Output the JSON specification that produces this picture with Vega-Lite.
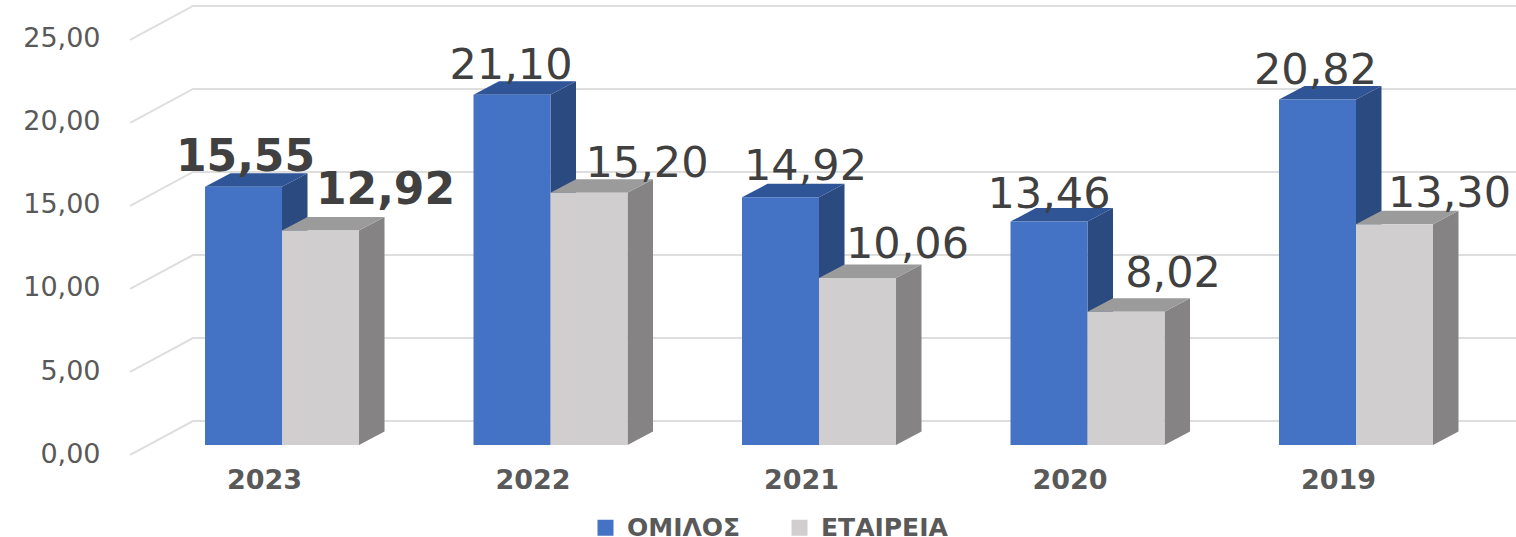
{"$schema":"https://vega.github.io/schema/vega-lite/v6.json","width":1408,"height":462,"autosize":{"type":"none"},"padding":{"left":108,"top":0,"right":0,"bottom":75},"background":"white","data":{"values":[{"year":2023,"series":"ΟΜΙΛΟΣ","value":15.55},{"year":2023,"series":"ΕΤΑΙΡΕΙΑ","value":12.92},{"year":2022,"series":"ΟΜΙΛΟΣ","value":21.10},{"year":2022,"series":"ΕΤΑΙΡΕΙΑ","value":15.20},{"year":2021,"series":"ΟΜΙΛΟΣ","value":14.92},{"year":2021,"series":"ΕΤΑΙΡΕΙΑ","value":10.06},{"year":2020,"series":"ΟΜΙΛΟΣ","value":13.46},{"year":2020,"series":"ΕΤΑΙΡΕΙΑ","value":8.02},{"year":2019,"series":"ΟΜΙΛΟΣ","value":20.82},{"year":2019,"series":"ΕΤΑΙΡΕΙΑ","value":13.30}]},"transform":[{"calculate":"datum.year-(datum.series==='ΟΜΙΛΟΣ'?0:0.2868)","as":"xb"},{"calculate":"replace(format(datum.value,'.2f'),'.',',')","as":"label"}],"encoding":{"x":{"field":"xv","type":"quantitative","scale":{"domain":[2023.3613,2018.1173],"nice":false,"zero":false},"axis":{"values":[2023,2022,2021,2020,2019],"format":"d","title":null,"grid":false,"domain":false,"ticks":false,"labelOffset":59,"labelPadding":5,"labelFont":"DejaVu Sans","labelFontWeight":"bold","labelFontSize":27,"labelColor":"#595959","labelOverlap":false,"labelFlush":false}},"y":{"field":"yv","type":"quantitative","scale":{"domain":[-1.024,26.807],"nice":false,"zero":false},"axis":{"values":[0,5,10,15,20,25],"labelExpr":"replace(format(datum.value,'.2f'),'.',',')","title":null,"grid":false,"domain":false,"ticks":false,"labelOffset":9,"labelPadding":8,"labelFont":"DejaVu Sans","labelFontSize":27,"labelColor":"#595959","labelOverlap":false,"labelFlush":false}}},"layer":[{"data":{"values":[{"tick":0},{"tick":5},{"tick":10},{"tick":15},{"tick":20},{"tick":25}]},"transform":[{"calculate":"[0,1,2]","as":"corner"},{"flatten":["corner"]},{"calculate":"[2023.279,2023.0447,2018.1173][datum.corner]","as":"xv"},{"calculate":"datum.tick+[-0.6,1.446,1.446][datum.corner]","as":"yv"}],"mark":{"type":"line","stroke":"#DEDEDE","strokeWidth":2},"encoding":{"detail":{"field":"tick"},"order":{"field":"corner"}}},
{"transform":[{"filter":"datum.series==='ΟΜΙΛΟΣ'"},{"calculate":"[0,1]","as":"corner"},{"flatten":["corner"]},{"calculate":"datum.xb-0.2868-datum.corner*0.095","as":"xv"},{"calculate":"datum.value+datum.corner*0.813","as":"yv"},{"calculate":"datum.corner*0.813","as":"y2v"}],"mark":{"type":"area","orient":"vertical","fill":"#2A4A80"},"encoding":{"y2":{"field":"y2v"},"detail":{"field":"year"}}},
{"transform":[{"filter":"datum.series==='ΟΜΙΛΟΣ'"},{"calculate":"[0,1]","as":"corner"},{"flatten":["corner"]},{"calculate":"datum.xb-datum.corner*0.095","as":"xv"},{"calculate":"datum.xb-0.2868-datum.corner*0.095","as":"x2v"},{"calculate":"datum.value+datum.corner*0.813","as":"yv"}],"mark":{"type":"area","orient":"horizontal","fill":"#2F5597"},"encoding":{"x2":{"field":"x2v"},"detail":{"field":"year"}}},
{"transform":[{"filter":"datum.series==='ΟΜΙΛΟΣ'"},{"calculate":"datum.xb","as":"xv"},{"calculate":"datum.xb-0.2868","as":"x2v"},{"calculate":"datum.value","as":"yv"}],"mark":{"type":"rect"},"encoding":{"x2":{"field":"x2v"},"y2":{"datum":0},"color":{"field":"series","type":"nominal","scale":{"domain":["ΟΜΙΛΟΣ","ΕΤΑΙΡΕΙΑ"],"range":["#4472C4","#D0CECE"]},"legend":{"orient":"none","legendX":485,"legendY":515,"direction":"horizontal","title":null,"symbolType":"square","symbolSize":256,"symbolStrokeWidth":0,"labelFont":"DejaVu Sans","labelFontWeight":"bold","labelFontSize":25,"labelColor":"#595959","labelLimit":300,"columnPadding":46,"labelOffset":9}}}},
{"transform":[{"filter":"datum.series==='ΕΤΑΙΡΕΙΑ'"},{"calculate":"[0,1]","as":"corner"},{"flatten":["corner"]},{"calculate":"datum.xb-0.2868-datum.corner*0.095","as":"xv"},{"calculate":"datum.value+datum.corner*0.813","as":"yv"},{"calculate":"datum.corner*0.813","as":"y2v"}],"mark":{"type":"area","orient":"vertical","fill":"#858383"},"encoding":{"y2":{"field":"y2v"},"detail":{"field":"year"}}},
{"transform":[{"filter":"datum.series==='ΕΤΑΙΡΕΙΑ'"},{"calculate":"[0,1]","as":"corner"},{"flatten":["corner"]},{"calculate":"datum.xb-datum.corner*0.095","as":"xv"},{"calculate":"datum.xb-0.2868-datum.corner*0.095","as":"x2v"},{"calculate":"datum.value+datum.corner*0.813","as":"yv"}],"mark":{"type":"area","orient":"horizontal","fill":"#9C9B9B"},"encoding":{"x2":{"field":"x2v"},"detail":{"field":"year"}}},
{"transform":[{"filter":"datum.series==='ΕΤΑΙΡΕΙΑ'"},{"calculate":"datum.xb","as":"xv"},{"calculate":"datum.xb-0.2868","as":"x2v"},{"calculate":"datum.value","as":"yv"}],"mark":{"type":"rect"},"encoding":{"x2":{"field":"x2v"},"y2":{"datum":0},"color":{"field":"series","type":"nominal"}}},
{"transform":[{"filter":"datum.year!==2023"},{"calculate":"datum.xb-0.1434-(datum.series==='ΟΜΙΛΟΣ'?[2,-1,25,0,-2]:[65,58,50,47,55])[2023-datum.year]/268.5","as":"xv"},{"calculate":"datum.value+(datum.series==='ΟΜΙΛΟΣ'?[29,29,30,27,28]:[40,29,33,38,30])[2023-datum.year]/16.6","as":"yv"}],"mark":{"type":"text","font":"DejaVu Sans","fontSize":43,"fill":"#404040","align":"center","baseline":"middle"},"encoding":{"text":{"field":"label"}}},
{"transform":[{"filter":"datum.year===2023"},{"calculate":"datum.xb-0.1434-(datum.series==='ΟΜΙΛΟΣ'?[2,-1,25,0,-2]:[65,58,50,47,55])[2023-datum.year]/268.5","as":"xv"},{"calculate":"datum.value+(datum.series==='ΟΜΙΛΟΣ'?[29,29,30,27,28]:[40,29,33,38,30])[2023-datum.year]/16.6","as":"yv"}],"mark":{"type":"text","font":"DejaVu Sans","fontWeight":"bold","fontSize":44,"fill":"#404040","align":"center","baseline":"middle"},"encoding":{"text":{"field":"label"}}}],"config":{"view":{"stroke":null}}}
